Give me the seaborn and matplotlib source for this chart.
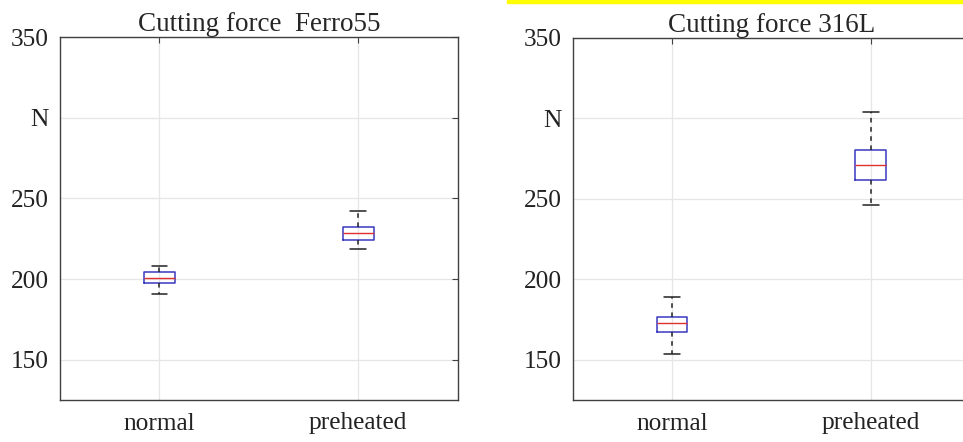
import pandas as pd
import matplotlib.pyplot as plt
import matplotlib.patches as mpatches
import seaborn as sns

# five-number summaries: low whisker, q1, median, q3, high whisker
conditions = ['normal', 'preheated']
ferro55_normal = [190.5, 197.5, 200.4, 204.2, 207.9]
ferro55_preheated = [218.4, 224.4, 228.6, 232.5, 241.9]
ss316l_normal = [153.6, 167.4, 172.9, 176.8, 189.3]
ss316l_preheated = [246.0, 262.0, 271.3, 280.2, 304.1]
titles = ['Cutting force  Ferro55', 'Cutting force 316L']
ytick_vals = [150, 200, 250, 300, 350]
ytick_labels = ['150', '200', '250', 'N', '350']


def make_df(normal, preheated):
    return pd.DataFrame({
        'cond': [conditions[0]] * len(normal) + [conditions[1]] * len(preheated),
        'force': normal + preheated,
    })


sns.set_style('white')
plt.rcParams['font.family'] = ['Liberation Serif', 'DejaVu Serif']

fig = plt.figure(figsize=(9.63, 4.42), dpi=100)
ax1 = fig.add_axes([60 / 963, 1 - 400 / 442, 397.5 / 963, 363 / 442])
ax2 = fig.add_axes([572.7 / 963, 1 - 400 / 442, 397.5 / 963, 362 / 442])

frames = [make_df(ferro55_normal, ferro55_preheated), make_df(ss316l_normal, ss316l_preheated)]

for ax, df, title in zip([ax1, ax2], frames, titles):
    sns.boxplot(data=df, x='cond', y='force', ax=ax, width=0.155, whis=(0, 100),
                fill=False, color='blue', linewidth=1.0,
                boxprops=dict(color='#3838c0', linewidth=1.1),
                medianprops=dict(color='#e03030', linewidth=1.0),
                whiskerprops=dict(color='#222222', linestyle=(0, (3, 3)), linewidth=1.1),
                capprops=dict(color='#222222', linewidth=1.1))
    ax.set_xlim(-0.5, 1.5)
    ax.set_ylim(125, 350)
    ax.set_yticks(ytick_vals)
    ax.set_yticklabels(ytick_labels)
    ax.set_xlabel('')
    ax.set_ylabel('')
    ax.set_title(title, fontsize=19.5, pad=4)
    ax.grid(True, color='#e6e6e6', linewidth=0.9)
    ax.set_axisbelow(True)
    ax.tick_params(direction='in', length=4, width=0.8, color='#404040',
                   top=True, right=True, labelsize=18.3, labelcolor='#222222')
    ax.tick_params(axis='x', pad=9)
    ax.tick_params(axis='y', pad=8)
    for sp in ax.spines.values():
        sp.set_visible(True)
        sp.set_color('#404040')
        sp.set_linewidth(1.0)

# yellow highlight strip along the top edge
fig.patches.append(mpatches.Rectangle((507 / 963, 1 - 3 / 442), 1 - 507 / 963, 3 / 442,
                                      transform=fig.transFigure, color='#ffff00', zorder=5))

fig.savefig('out.png', dpi=100)
